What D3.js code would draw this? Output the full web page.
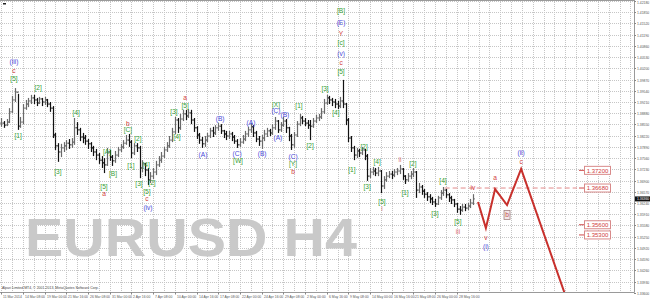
<!DOCTYPE html>
<html><head><meta charset="utf-8">
<script src="https://cdn.jsdelivr.net/npm/d3@7"></script>
<style>body{margin:0;background:#fff}svg{display:block}</style>
</head><body>
<svg id="c" width="650" height="300"></svg>
<script>
// EURUSD 8-hour-spaced bars (index 0 = 11 Mar 2014 16:00)
const high = [
1.3874,1.3865,1.3871,1.3903,1.3939,1.3962,1.3945,1.3877,1.3915,1.3927,
1.3933,1.3942,1.3942,1.3933,1.3936,1.3933,1.3936,1.3930,1.3921,1.3909,
1.3830,1.3800,1.3798,1.3803,1.3809,1.3812,1.3815,1.3874,1.3862,1.3845,
1.3830,1.3824,1.3812,1.3803,1.3792,1.3783,1.3771,1.3762,1.3756,1.3786,
1.3780,1.3765,1.3777,1.3789,1.3798,1.3809,1.3824,1.3827,1.3809,1.3800,
1.3800,1.3792,1.3750,1.3742,1.3727,1.3715,1.3727,1.3748,1.3762,1.3774,
1.3789,1.3803,1.3821,1.3845,1.3877,1.3874,1.3886,1.3898,1.3898,1.3900,
1.3898,1.3874,1.3850,1.3830,1.3818,1.3821,1.3830,1.3845,1.3848,1.3853,
1.3859,1.3856,1.3839,1.3836,1.3836,1.3833,1.3824,1.3812,1.3815,1.3824,
1.3836,1.3848,1.3859,1.3853,1.3836,1.3821,1.3824,1.3839,1.3845,1.3842,
1.3856,1.3877,1.3868,1.3862,1.3877,1.3871,1.3848,1.3827,1.3833,1.3865,
1.3886,1.3880,1.3874,1.3868,1.3868,1.3874,1.3883,1.3886,1.3903,1.3930,
1.3942,1.3939,1.3933,1.3930,1.3924,1.3936,1.3986,1.3918,1.3874,1.3821,
1.3792,1.3786,1.3783,1.3789,1.3783,1.3768,1.3727,1.3730,1.3727,1.3730,
1.3721,1.3703,1.3715,1.3718,1.3718,1.3724,1.3727,1.3736,1.3727,1.3706,
1.3712,1.3718,1.3727,1.3718,1.3683,1.3677,1.3665,1.3656,1.3650,1.3642,
1.3636,1.3645,1.3662,1.3671,1.3665,1.3653,1.3645,1.3636,1.3624,1.3615,
1.3621,1.3621,1.3624,1.3636,1.3650];
const low = [
1.3848,1.3845,1.3850,1.3859,1.3889,1.3921,1.3839,1.3845,1.3856,1.3898,
1.3906,1.3915,1.3915,1.3909,1.3915,1.3909,1.3912,1.3906,1.3892,1.3815,
1.3780,1.3745,1.3759,1.3774,1.3780,1.3783,1.3786,1.3795,1.3824,1.3806,
1.3800,1.3795,1.3783,1.3774,1.3762,1.3750,1.3739,1.3727,1.3712,1.3733,
1.3748,1.3733,1.3742,1.3759,1.3774,1.3783,1.3795,1.3789,1.3756,1.3765,
1.3774,1.3697,1.3715,1.3703,1.3677,1.3683,1.3694,1.3706,1.3730,1.3742,
1.3756,1.3774,1.3786,1.3803,1.3827,1.3830,1.3839,1.3865,1.3868,1.3874,
1.3856,1.3833,1.3812,1.3798,1.3786,1.3789,1.3803,1.3815,1.3818,1.3824,
1.3836,1.3827,1.3815,1.3809,1.3812,1.3806,1.3798,1.3786,1.3789,1.3798,
1.3806,1.3818,1.3830,1.3818,1.3803,1.3792,1.3783,1.3806,1.3818,1.3821,
1.3824,1.3839,1.3830,1.3833,1.3848,1.3830,1.3806,1.3780,1.3786,1.3818,
1.3850,1.3856,1.3850,1.3842,1.3809,1.3845,1.3859,1.3865,1.3871,1.3886,
1.3912,1.3915,1.3909,1.3903,1.3900,1.3903,1.3903,1.3853,1.3803,1.3774,
1.3750,1.3756,1.3759,1.3765,1.3750,1.3689,1.3697,1.3706,1.3703,1.3703,
1.3653,1.3665,1.3686,1.3697,1.3694,1.3700,1.3706,1.3709,1.3692,1.3680,
1.3686,1.3694,1.3700,1.3639,1.3653,1.3648,1.3639,1.3630,1.3624,1.3618,
1.3612,1.3618,1.3633,1.3645,1.3639,1.3627,1.3621,1.3612,1.3595,1.3589,
1.3598,1.3600,1.3603,1.3609,1.3618];
const close = [
1.3859,1.3853,1.3862,1.3892,1.3927,1.3950,1.3850,1.3862,1.3903,1.3915,
1.3924,1.3933,1.3927,1.3918,1.3930,1.3921,1.3927,1.3915,1.3903,1.3824,
1.3792,1.3774,1.3786,1.3792,1.3800,1.3795,1.3803,1.3845,1.3839,1.3818,
1.3815,1.3806,1.3798,1.3786,1.3774,1.3765,1.3750,1.3742,1.3736,1.3774,
1.3759,1.3748,1.3765,1.3780,1.3789,1.3800,1.3809,1.3803,1.3771,1.3792,
1.3786,1.3727,1.3739,1.3721,1.3692,1.3703,1.3715,1.3736,1.3750,1.3762,
1.3780,1.3792,1.3809,1.3833,1.3868,1.3845,1.3871,1.3886,1.3880,1.3889,
1.3868,1.3845,1.3824,1.3809,1.3798,1.3809,1.3821,1.3836,1.3830,1.3845,
1.3850,1.3836,1.3827,1.3821,1.3827,1.3818,1.3806,1.3795,1.3803,1.3812,
1.3827,1.3839,1.3848,1.3830,1.3812,1.3806,1.3815,1.3827,1.3836,1.3830,
1.3845,1.3865,1.3839,1.3853,1.3865,1.3845,1.3821,1.3795,1.3824,1.3856,
1.3874,1.3865,1.3859,1.3853,1.3850,1.3865,1.3874,1.3877,1.3892,1.3918,
1.3933,1.3927,1.3921,1.3915,1.3909,1.3924,1.3915,1.3868,1.3815,1.3786,
1.3765,1.3777,1.3771,1.3780,1.3762,1.3703,1.3715,1.3718,1.3712,1.3718,
1.3674,1.3692,1.3703,1.3709,1.3706,1.3715,1.3718,1.3724,1.3703,1.3692,
1.3703,1.3709,1.3715,1.3662,1.3671,1.3659,1.3650,1.3642,1.3636,1.3627,
1.3621,1.3639,1.3653,1.3662,1.3648,1.3639,1.3633,1.3621,1.3606,1.3603,
1.3612,1.3609,1.3615,1.3624,1.3636];

const dateLabels = ["11 Mar 2014","14 Mar 08:00","19 Mar 00:00","21 Mar 16:00","26 Mar 08:00",
"31 Mar 00:00","2 Apr 16:00","7 Apr 08:00","10 Apr 00:00","14 Apr 16:00","17 Apr 08:00",
"22 Apr 00:00","24 Apr 16:00","29 Apr 08:00","2 May 00:00","6 May 16:00","9 May 08:00",
"14 May 00:00","16 May 16:00","21 May 08:00","26 May 00:00","28 May 16:00"];
const priceTicks = [1.3360,1.3393,1.3426,1.3459,1.3492,1.3525,1.3558,1.3591,1.3624,1.3657,
1.3690,1.3723,1.3756,1.3789,1.3822,1.3855,1.3888,1.3921,1.3954,1.3987,1.4020,1.4053,
1.4086,1.4119,1.4152,1.4185,1.4218];

// projected path
const projIdx = [175.8, 178.7, 182.1, 186.5, 191.7, 209];
const projPrice = [1.3627, 1.3550, 1.3665, 1.3618, 1.3724, 1.3330];
// target levels
const levels = [1.3720, 1.3668, 1.3560, 1.3530];
const dashedLevel = 1.3668;

// wave labels: text, bar index, price, colour kind
const waveText = ["(iii)","c","[5]","[1]","[2]","[3]","[4]","[A]","[5]","a","[B]","b","[C]",
"[1]","[2]","[3]","[4]","[5]","c","(iv)","[2]","[3]","[4]","[5]","a","(A)","(B)","(C)","[W]",
"(A)","(B)","[X]","(C)","(A)","(B)","(C)","[Y]","b","[1]","[2]","[3]","[4]","[5]","c","(v)",
"[c]","Y","(E)","[B]","[1]","[2]","[3]","[4]","[5]","i","ii","[1]","[2]","[3]","[4]","[5]",
"iii","iv","v","(i)","a","b","c","(ii)"];
const waveIdx = [4.7,4.7,4.7,6.2,13.6,20.9,27.6,39,37.9,37.9,41.2,46.7,46.7,
47.8,50.4,50.8,53.4,53.7,53.7,54.1,55.6,63.7,64.8,67.8,67.8,74.4,80.7,87,87.3,
92.1,96.2,101.3,101.3,102,104.6,107.6,107.6,107.6,109.8,113.9,119.4,123.4,125.3,125.3,125.3,
125.3,125.3,125.3,125.3,129.3,133.8,134.9,138.6,140.4,140.4,147,148.9,151.8,159.9,162.9,168.4,
168.4,173.9,178.7,178.7,182.1,186.5,191.7,191.7];
const wavePrice = [1.4039,1.4012,1.3989,1.3821,1.3962,1.3715,1.3889,1.3774,1.3671,1.3650,1.3709,1.3856,1.3839,
1.3733,1.3812,1.3680,1.3736,1.3657,1.3636,1.3610,1.3683,1.3892,1.3818,1.3909,1.3933,1.3765,1.3871,1.3769,1.3747,
1.3859,1.3768,1.3912,1.3895,1.3815,1.3883,1.3761,1.3739,1.3715,1.3909,1.3792,1.3959,1.3889,1.4009,1.4036,1.4062,
1.4095,1.4121,1.4153,1.4189,1.3721,1.3789,1.3671,1.3745,1.3627,1.3606,1.3750,1.3653,1.3739,1.3592,1.3689,1.3568,
1.3539,1.3668,1.3521,1.3495,1.3697,1.3589,1.3745,1.3771];
const waveKind = ["b","r","g","g","g","g","g","g","g","r","g","r","g",
"g","g","g","g","g","r","b","g","g","g","g","r","b","b","b","g",
"b","b","g","b","b","b","b","g","r","g","g","g","g","g","r","b",
"g","r","b","g","g","g","g","g","g","p","p","g","g","g","g","g",
"p","r","r","b","r","rb","r","b"];

const svg = d3.select("#c");
const W = 634, H = 292;
const FONT = "Liberation Sans, Arial, sans-serif";
const x = d3.scaleLinear().domain([0, 233.32]).range([1.25, W]);
const y = d3.scaleLinear().domain([1.4221, 1.33622]).range([0, H]);
const colors = {g:"#36a036", b:"#4848d8", r:"#d23c3c", p:"#e07272", rb:"#c04a4a"};

svg.append("rect").attr("width",650).attr("height",300).attr("fill","#fff");
svg.append("defs").append("clipPath").attr("id","clip")
  .append("rect").attr("x",0).attr("y",0).attr("width",W).attr("height",H);

// grid
const grid = svg.append("g").attr("stroke","#c6c6c6").attr("stroke-dasharray","1,1").attr("stroke-width",1);
priceTicks.forEach(t => {
  const yy = Math.round(y(t)) + 0.5;
  if (yy > 1 && yy < H) grid.append("line").attr("x1",0).attr("x2",W).attr("y1",yy).attr("y2",yy);
});
d3.range(0, 234, 4).forEach(i => {
  const xx = Math.round(x(i)) + 0.5;
  if (xx < W) grid.append("line").attr("x1",xx).attr("x2",xx).attr("y1",0).attr("y2",H);
});

// watermark
svg.append("text").attr("x",25).attr("y",256)
  .attr("font-family",FONT).attr("font-weight","bold")
  .attr("font-size",54).attr("fill","#c9c9c9")
  .attr("textLength",332).attr("lengthAdjust","spacingAndGlyphs").text("EURUSD H4");

// bars
const plot = svg.append("g").attr("clip-path","url(#clip)");
const bars = plot.append("g");
close.forEach((c, i) => {
  const xx = Math.round(x(i)) + 0.5;
  const prev = i > 0 ? close[i-1] : c;
  const col = c >= prev ? "#6a6a6a" : "#111";
  bars.append("line").attr("x1",xx).attr("x2",xx).attr("y1",y(high[i])).attr("y2",y(low[i]))
    .attr("stroke",col).attr("stroke-width",1.2);
  bars.append("line").attr("x1",xx).attr("x2",xx+1.4).attr("y1",y(c)).attr("y2",y(c))
    .attr("stroke",col).attr("stroke-width",1);
  bars.append("line").attr("x1",xx-1.4).attr("x2",xx).attr("y1",y(prev)).attr("y2",y(prev))
    .attr("stroke",col).attr("stroke-width",1);
});

// dashed level line
plot.append("line").attr("x1",x(163.5)).attr("x2",577).attr("y1",y(dashedLevel)).attr("y2",y(dashedLevel))
  .attr("stroke","#e38a8a").attr("stroke-width",1).attr("stroke-dasharray","5,3");

// projection
plot.append("path").datum(projIdx.map((d,k)=>[d, projPrice[k]]))
  .attr("d", d3.line().x(d=>x(d[0])).y(d=>y(d[1])))
  .attr("fill","none").attr("stroke","#c8302c").attr("stroke-width",2).attr("stroke-linejoin","miter");

// level boxes
levels.forEach(l => {
  const yy = y(l);
  const g = svg.append("g");
  g.append("line").attr("x1",579).attr("x2",584).attr("y1",yy).attr("y2",yy).attr("stroke","#d04a4a");
  g.append("rect").attr("x",584.5).attr("y",yy-4).attr("width",26).attr("height",8)
    .attr("fill","#fff").attr("stroke","#d88a8a").attr("stroke-width",1);
  g.append("text").attr("x",597.5).attr("y",yy).attr("dy","0.36em").attr("text-anchor","middle")
    .attr("font-family",FONT).attr("font-size",6)
    .attr("fill","#d03a3a").text(d3.format(".5f")(l));
});

// wave labels
const lab = svg.append("g").attr("font-family",FONT)
  .attr("font-size",6.6).attr("text-anchor","middle");
waveText.forEach((t,k) => {
  const xx = x(waveIdx[k]), yy = y(wavePrice[k]);
  if (waveKind[k] === "rb") {
    lab.append("rect").attr("x",xx-3).attr("y",yy-4.5).attr("width",6).attr("height",9)
      .attr("fill","#f4e8e8").attr("stroke","#a08080").attr("stroke-width",0.8);
  }
  lab.append("text").attr("x",xx).attr("y",yy).attr("dy","0.35em")
    .attr("fill",colors[waveKind[k]]).text(t);
});

// frame
const fr = svg.append("g").attr("stroke","#9a9a9a").attr("stroke-width",1);
fr.append("line").attr("x1",0).attr("x2",W+0.5).attr("y1",0.5).attr("y2",0.5);
fr.append("line").attr("x1",W+0.5).attr("x2",W+0.5).attr("y1",0).attr("y2",H+0.5);
fr.append("line").attr("x1",0).attr("x2",W+0.5).attr("y1",H+0.5).attr("y2",H+0.5);

// price axis
const ax = svg.append("g").attr("font-family",FONT).attr("fill","#555");
priceTicks.forEach(t => {
  const yy = Math.round(y(t)) + 0.5;
  ax.append("line").attr("x1",W).attr("x2",W+2).attr("y1",yy).attr("y2",yy).attr("stroke","#888");
  ax.append("text").attr("x",W+3).attr("y",Math.max(yy,3)).attr("dy","0.35em")
    .attr("font-size",3.4).text(d3.format(".5f")(t));
});
// current price tag
const last = close[close.length-1];
ax.append("rect").attr("x",W+1).attr("y",y(last)-2.5).attr("width",15).attr("height",5).attr("fill","#111");
ax.append("text").attr("x",W+3).attr("y",y(last)).attr("dy","0.35em").attr("font-size",3.4)
  .attr("fill","#fff").text(d3.format(".5f")(last));

// time axis
dateLabels.forEach((d,k) => {
  const xx = Math.round(x(k*8)) + 0.5;
  ax.append("line").attr("x1",xx).attr("x2",xx).attr("y1",H).attr("y2",H+2.5).attr("stroke","#888");
  ax.append("text").attr("x",xx+1.5).attr("y",H+4.5).attr("dy","0.35em")
    .attr("font-size",3.4).text(d);
});

// copyright & corner mark
svg.append("text").attr("x",2).attr("y",288.5).attr("font-family",FONT)
  .attr("font-size",3.5).attr("fill","#444").text("Alpari Limited MT4, © 2001-2013, MetaQuotes Software Corp.");
svg.append("rect").attr("x",3).attr("y",3).attr("width",3).attr("height",1.5).attr("fill","#222");
</script>
</body></html>
